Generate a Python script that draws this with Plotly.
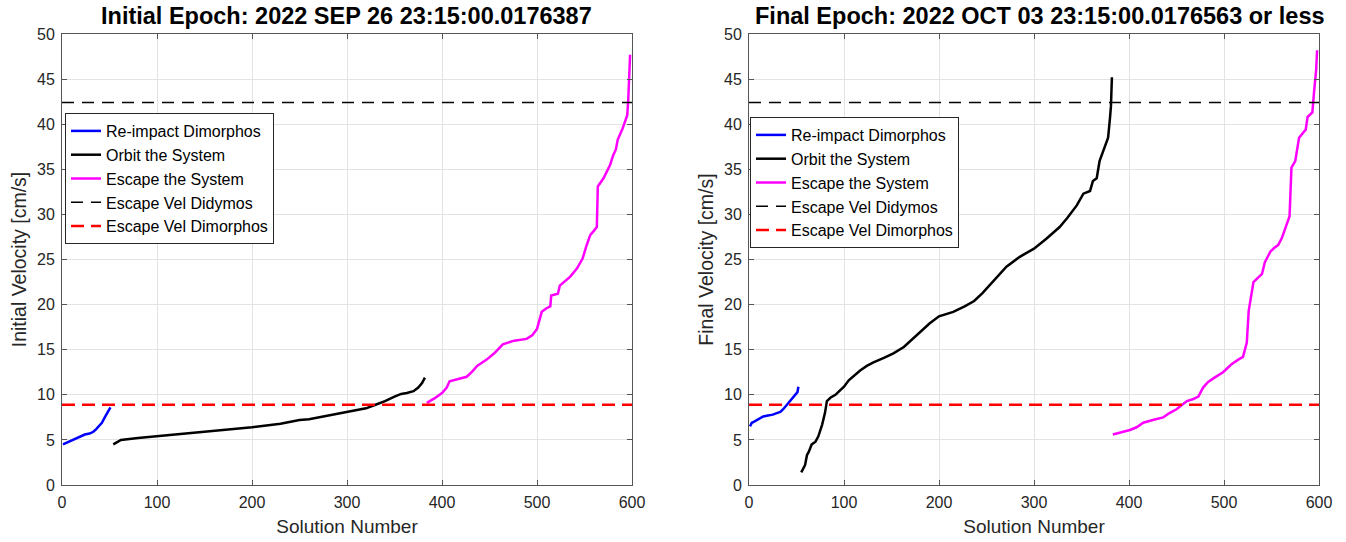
import plotly.graph_objects as go

# ---------------- data ----------------
X_RANGE = [0, 600]
Y_RANGE = [0, 50]
ESC_DIDYMOS = 42.4
ESC_DIMORPHOS = 8.9

TITLE_L = "Initial Epoch: 2022 SEP 26 23:15:00.0176387"
TITLE_R = "Final Epoch: 2022 OCT 03 23:15:00.0176563 or less"
YLABEL_L = "Initial Velocity [cm/s]"
YLABEL_R = "Final Velocity [cm/s]"
XLABEL = "Solution Number"
NAMES = ["Re-impact Dimorphos", "Orbit the System", "Escape the System",
         "Escape Vel Didymos", "Escape Vel Dimorphos"]

# Initial epoch
init_reimpact_x = [1, 5, 10, 15, 19, 24, 29, 33, 36, 39, 42, 45, 48, 51]
init_reimpact_y = [4.5, 4.7, 4.9, 5.2, 5.4, 5.6, 5.7, 5.9, 6.2, 6.5, 6.9, 7.5, 8.1, 8.6]

init_orbit_x = [54, 57, 60, 62, 80, 100, 130, 160, 200, 230, 250, 260, 280, 300,
                320, 330, 340, 350, 357, 363, 370, 375, 379, 382]
init_orbit_y = [4.5, 4.7, 4.9, 5.0, 5.2, 5.4, 5.7, 6.0, 6.4, 6.8, 7.2, 7.3, 7.7, 8.1,
                8.5, 8.9, 9.3, 9.8, 10.1, 10.2, 10.4, 10.8, 11.3, 11.9]

init_escape_x = [384, 392, 400, 405, 408, 415, 426, 432, 437, 447, 455, 464, 476,
                 489, 495, 500, 503, 505, 510, 514, 515, 522, 524, 530, 535, 542,
                 548, 552, 556, 560, 563, 564, 570, 577, 580, 583, 585, 590, 592,
                 595, 596, 597, 598]
init_escape_y = [9.1, 9.6, 10.2, 10.8, 11.5, 11.7, 12.0, 12.6, 13.2, 13.9, 14.6, 15.6,
                 16.0, 16.2, 16.6, 17.3, 18.5, 19.2, 19.6, 19.8, 21.0, 21.2, 22.1,
                 22.6, 23.1, 24.0, 25.1, 26.5, 27.7, 28.2, 28.6, 33.1, 34.0, 35.5,
                 36.5, 37.2, 38.3, 39.5, 40.2, 41.0, 42.6, 45.0, 47.7]

# Final epoch
final_reimpact_x = [1, 3, 5, 10, 15, 20, 25, 30, 33, 36, 40, 43, 47, 50, 51, 52]
final_reimpact_y = [6.5, 6.9, 7.0, 7.3, 7.6, 7.7, 7.8, 8.0, 8.1, 8.4, 8.9, 9.4, 9.9,
                    10.2, 10.3, 10.9]

final_orbit_x = [55, 57, 59, 61, 63, 66, 70, 73, 75, 77, 80, 82, 86, 91, 95, 100,
                 105, 110, 117, 124, 131, 142, 152, 163, 172, 180, 190, 200, 215,
                 227, 237, 246, 258, 271, 285, 300, 313, 320, 327, 335, 340, 345,
                 352, 359, 362, 366, 369, 373, 375, 378, 380, 381, 382]
final_orbit_y = [1.4, 1.8, 2.2, 3.3, 3.7, 4.5, 4.8, 5.4, 6.0, 6.7, 8.0, 9.3, 9.7,
                 10.0, 10.4, 10.9, 11.6, 12.1, 12.7, 13.2, 13.6, 14.1, 14.6, 15.3,
                 16.2, 17.0, 17.9, 18.7, 19.2, 19.8, 20.4, 21.3, 22.7, 24.2, 25.3,
                 26.2, 27.3, 27.9, 28.6, 29.6, 30.3, 31.0, 32.3, 32.6, 33.7, 34.0,
                 35.9, 37.0, 37.7, 38.5, 40.7, 42.0, 45.2]

final_escape_x = [383, 390, 401, 408, 415, 425, 436, 443, 450, 455, 461, 467, 473,
                  478, 483, 490, 499, 504, 508, 515, 520, 524, 526, 531, 536, 540,
                  543, 549, 553, 557, 561, 564, 569, 571, 575, 579, 586, 588, 593,
                  595, 597, 598]
final_escape_y = [5.6, 5.8, 6.1, 6.4, 6.9, 7.2, 7.5, 8.0, 8.4, 8.8, 9.3, 9.5, 9.8,
                  10.8, 11.4, 11.9, 12.5, 13.0, 13.4, 13.9, 14.2, 15.8, 19.3, 22.5,
                  23.0, 23.4, 24.7, 25.9, 26.3, 26.6, 27.4, 28.4, 29.8, 35.2, 35.9,
                  38.5, 39.4, 40.8, 41.3, 43.8, 46.0, 48.2]

# ---------------- styling ----------------
FONT = "Liberation Sans, Arial, sans-serif"
AX_COL = "#262626"
GRID_COL = "#e3e3e3"
W, H = 1346, 542
L_DOM = [62 / W, 632 / W]
R_DOM = [749 / W, 1319 / W]

fig = go.Figure()


def add_panel(xa, ya, leg, rx, ry, ox, oy, ex, ey):
    fig.add_trace(go.Scatter(x=rx, y=ry, mode="lines", name=NAMES[0],
                             line=dict(color="#0000ff", width=2.5),
                             xaxis=xa, yaxis=ya, legend=leg))
    fig.add_trace(go.Scatter(x=ox, y=oy, mode="lines", name=NAMES[1],
                             line=dict(color="#000000", width=2.5),
                             xaxis=xa, yaxis=ya, legend=leg))
    fig.add_trace(go.Scatter(x=ex, y=ey, mode="lines", name=NAMES[2],
                             line=dict(color="#ff00ff", width=2.5),
                             xaxis=xa, yaxis=ya, legend=leg))
    fig.add_trace(go.Scatter(x=X_RANGE, y=[ESC_DIDYMOS, ESC_DIDYMOS], mode="lines",
                             name=NAMES[3],
                             line=dict(color="#000000", width=1.5, dash="12px,8px"),
                             xaxis=xa, yaxis=ya, legend=leg))
    fig.add_trace(go.Scatter(x=X_RANGE, y=[ESC_DIMORPHOS, ESC_DIMORPHOS], mode="lines",
                             name=NAMES[4],
                             line=dict(color="#ff0000", width=2.5, dash="13px,7px"),
                             xaxis=xa, yaxis=ya, legend=leg))


add_panel("x", "y", "legend", init_reimpact_x, init_reimpact_y, init_orbit_x,
          init_orbit_y, init_escape_x, init_escape_y)
add_panel("x2", "y2", "legend2", final_reimpact_x, final_reimpact_y, final_orbit_x,
          final_orbit_y, final_escape_x, final_escape_y)

axis_common = dict(
    automargin=False,
    showline=True, linecolor="#555555", linewidth=1, mirror="allticks",
    ticks="inside", ticklen=5, tickcolor="#555555",
    showgrid=True, gridcolor=GRID_COL, gridwidth=1, zeroline=False,
    tickfont=dict(family=FONT, size=16, color=AX_COL),
    ticklabelstandoff=3,
)
xcommon = dict(axis_common, range=X_RANGE, tickvals=[0, 100, 200, 300, 400, 500, 600],
               title=dict(text=XLABEL, font=dict(family=FONT, size=19, color=AX_COL),
                          standoff=9))
ycommon = dict(axis_common, range=Y_RANGE, tickvals=list(range(0, 51, 5)))

legend_common = dict(
    bgcolor="white", bordercolor="#262626", borderwidth=1,
    font=dict(family=FONT, size=16, color="#000000"),
    xanchor="left", yanchor="top", tracegroupgap=0,
)

fig.update_layout(
    template="none",
    width=W, height=H,
    margin=dict(l=0, r=0, t=34, b=57, autoexpand=False),
    paper_bgcolor="white", plot_bgcolor="white",
    showlegend=True,
    xaxis=dict(xcommon, domain=L_DOM, anchor="y"),
    yaxis=dict(ycommon, domain=[0, 1], anchor="x",
               title=dict(text=YLABEL_L, font=dict(family=FONT, size=19.5, color=AX_COL),
                          standoff=5)),
    xaxis2=dict(xcommon, domain=R_DOM, anchor="y2"),
    yaxis2=dict(ycommon, domain=[0, 1], anchor="x2",
                title=dict(text=YLABEL_R, font=dict(family=FONT, size=19.5, color=AX_COL),
                           standoff=5)),
    legend=dict(legend_common, x=65 / W, y=(485 - 113) / 451),
    legend2=dict(legend_common, x=750 / W, y=(485 - 117) / 451),
    annotations=[
        dict(text="<b>" + TITLE_L + "</b>", xref="paper", yref="paper",
             x=(L_DOM[0] + L_DOM[1]) / 2, y=(485 - 16) / 451, xanchor="center",
             yanchor="middle", showarrow=False,
             font=dict(family=FONT, size=23.5, color="#000000")),
        dict(text="<b>" + TITLE_R + "</b>", xref="paper", yref="paper",
             x=(R_DOM[0] + R_DOM[1]) / 2 + 6 / W, y=(485 - 16) / 451, xanchor="center",
             yanchor="middle", showarrow=False,
             font=dict(family=FONT, size=23.5, color="#000000")),
    ],
)

fig.write_html("out.html")
